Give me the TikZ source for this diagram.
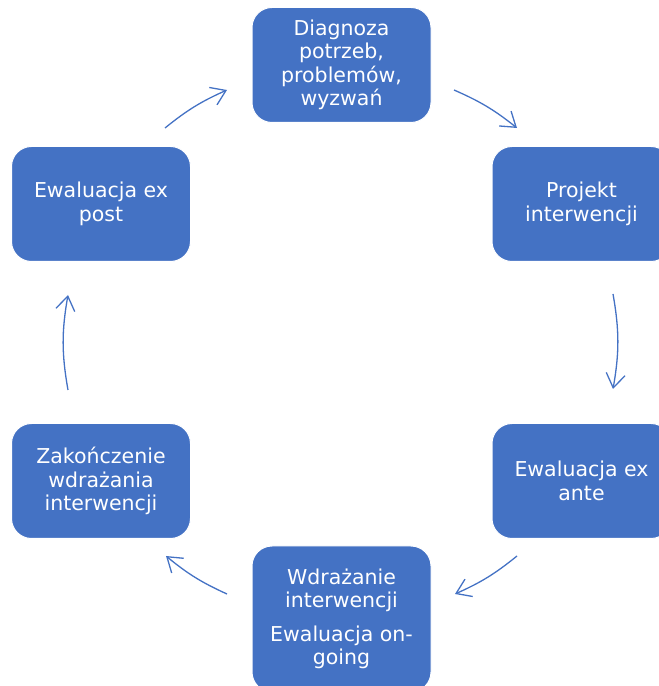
\documentclass[tikz,border=0pt]{standalone}
\usepackage{fontspec}
\setmainfont{DejaVu Sans}
\usetikzlibrary{arrows.meta}
\definecolor{phaseblue}{HTML}{4472C4}
\tikzset{
  phase/.style={draw=white, line width=1pt, fill=phaseblue, rounded corners=20pt,
    minimum width=179pt, minimum height=115pt, inner sep=0pt,
    text=white, align=center, font=\fontsize{20.5}{23.5}\selectfont},
  cyclearrow/.style={draw=phaseblue, line width=1.3pt,
    -{Straight Barb[length=14pt,width=19pt]}}
}

\begin{document}
\begin{tikzpicture}[x=1pt,y=1pt]
	%%%%% PHASES %%%%%
	\clip (0,0) rectangle (659,686);
	
	\node[phase] (diagnoza) at (341.5,621) {Diagnoza\\potrzeb,\\problemów,\\wyzwań};
	\node[phase] (projekt) at (581.5,482) {Projekt\\interwencji};
	\node[phase] (exante) at (581.5,205) {Ewaluacja ex\\ante};
	\node[phase, minimum height=146pt] (wdrazanie) at (341.5,67) {Wdrażanie\\interwencji\\[10pt]Ewaluacja on-\\going};
	\node[phase] (zakonczenie) at (101,205) {Zakończenie\\wdrażania\\interwencji};
	\node[phase] (expost) at (101,482) {Ewaluacja ex\\post};
	
	%%%%% ARROWS %%%%%
	\coordinate (a1s) at (454,596);  \coordinate (a1e) at (517,558);
	\coordinate (a2s) at (613,392);  \coordinate (a2e) at (613,297);
	\coordinate (a3s) at (517,130);  \coordinate (a3e) at (455,92);
	\coordinate (a4s) at (227,92);   \coordinate (a4e) at (166,130);
	\coordinate (a5s) at (68,296);   \coordinate (a5e) at (68,391);
	\coordinate (a6s) at (165,558);  \coordinate (a6e) at (227,596);
	
	\draw[cyclearrow] (a1s) to[bend left=7.5] (a1e);
	\draw[cyclearrow] (a2s) to[bend left=10] (a2e);
	\draw[cyclearrow] (a3s) to[bend left=7.5] (a3e);
	\draw[cyclearrow] (a4s) to[bend left=7.5] (a4e);
	\draw[cyclearrow] (a5s) to[bend left=10] (a5e);
	\draw[cyclearrow] (a6s) to[bend left=7.5] (a6e);
	
	%%%%% END %%%%%
\end{tikzpicture}
\end{document}
